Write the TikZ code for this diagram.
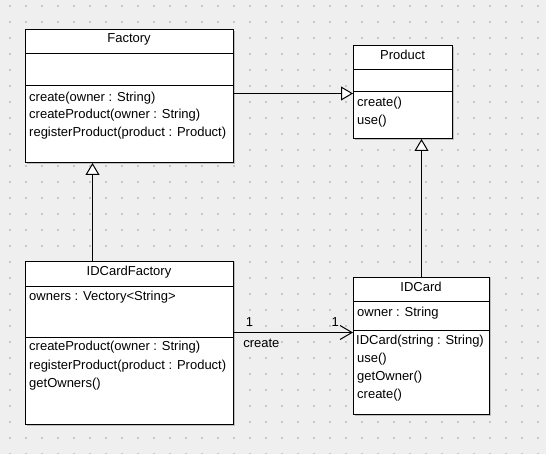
\documentclass[tikz,border=0pt]{standalone}
\usepackage{fontspec}
\setmainfont{Liberation Sans}
\usetikzlibrary{arrows.meta,calc}
\definecolor{fond}{HTML}{EFEFEF}
\definecolor{grille}{HTML}{C8C8C8}
\tikzset{
    classe/.style={draw,fill=white,line width=1pt,inner sep=0pt,anchor=north west},
    titre/.style={font=\fontsize{13}{13}\selectfont,inner sep=0pt},
    ligne/.style={font=\fontsize{13}{13}\selectfont,inner sep=0pt,anchor=west},
    herite/.style={line width=1pt,-{Triangle[open,length=12pt,width=14pt,fill=white]}},
    assoc/.style={line width=1pt,-{Straight Barb[length=12pt,width=14pt]}},
  }
\begin{document}
\begin{tikzpicture}[x=1pt,y=-1pt]
				  %FOND
				  \fill[fond] (0,0) rectangle (546,454);
				  \useasboundingbox (0,0) rectangle (546,454);
				  \foreach \x in {10,26,...,546}
				    \foreach \y in {6,22,...,454}
				      \fill[grille] (\x-0.75,\y-0.75) rectangle ++(1.5,1.5);
				  
				  %FACTORY
				  \fill[black!25] (27,31) rectangle ++(208,133);
				  \node[classe,minimum width=208pt,minimum height=133pt](F) at (25,29){};
				  \draw[line width=1pt] ($(F.north west)+(0,25)$) -- ++(208,0);
				  \draw[line width=1pt] ($(F.north west)+(0,57)$) -- ++(208,0);
				  \node[titre](Ft) at (129,39){Factory};
				  \node[ligne](F1) at (29,98){create(owner : String)};
				  \node[ligne](F2) at (29,115){createProduct(owner : String)};
				  \node[ligne](F3) at (29,133){registerProduct(product : Product)};
				  
				  %PRODUCT
				  \fill[black!25] (355,47) rectangle ++(99,93);
				  \node[classe,minimum width=99pt,minimum height=93pt](P) at (353,45){};
				  \draw[line width=1pt] ($(P.north west)+(0,25)$) -- ++(99,0);
				  \draw[line width=1pt] ($(P.north west)+(0,47)$) -- ++(99,0);
				  \node[titre](Pt) at (402.5,55){Product};
				  \node[ligne](P1) at (357,103){create()};
				  \node[ligne](P2) at (357,121){use()};
				  
				  %IDCARDFACTORY
				  \fill[black!25] (27,263) rectangle ++(208,163);
				  \node[classe,minimum width=208pt,minimum height=163pt](IF) at (25,261){};
				  \draw[line width=1pt] ($(IF.north west)+(0,26)$) -- ++(208,0);
				  \draw[line width=1pt] ($(IF.north west)+(0,76)$) -- ++(208,0);
				  \node[titre](IFt) at (129,272){IDCardFactory};
				  \node[ligne](IF0) at (29,297){owners : Vectory<String>};
				  \node[ligne](IF1) at (29,347){createProduct(owner : String)};
				  \node[ligne](IF2) at (29,366){registerProduct(product : Product)};
				  \node[ligne](IF3) at (29,384){getOwners()};
				  
				  %IDCARD
				  \fill[black!25] (355,279) rectangle ++(136,137);
				  \node[classe,minimum width=136pt,minimum height=137pt](IC) at (353,277){};
				  \draw[line width=1pt] ($(IC.north west)+(0,25)$) -- ++(136,0);
				  \draw[line width=1pt] ($(IC.north west)+(0,53)$) -- ++(136,0);
				  \node[titre](ICt) at (421,287){IDCard};
				  \node[ligne](IC0) at (357,313){owner : String};
				  \node[ligne](IC1) at (356,341){IDCard(string : String)};
				  \node[ligne](IC2) at (357,359){use()};
				  \node[ligne](IC3) at (357,377){getOwner()};
				  \node[ligne](IC4) at (357,395){create()};
				  
				  %LIENS
				  \draw[herite] ([yshift=-1.5pt]F.east |- P.west) -- ([yshift=-1.5pt]P.west);
				  \draw[herite] ([xshift=-37pt]IF.north) -- ([xshift=-37pt]F.south);
				  \draw[herite] (IC.north) -- (IC.north |- P.south);
				  \draw[assoc] ([yshift=13.5pt]IC.west -| IF.east) -- ([yshift=13.5pt]IC.west)
				        node[titre,pos=0.13,above=6pt]{1}
				        node[titre,pos=0.85,above=6pt]{1}
				        node[titre,pos=0.23,below=6pt]{create};
\end{tikzpicture}
\end{document}
